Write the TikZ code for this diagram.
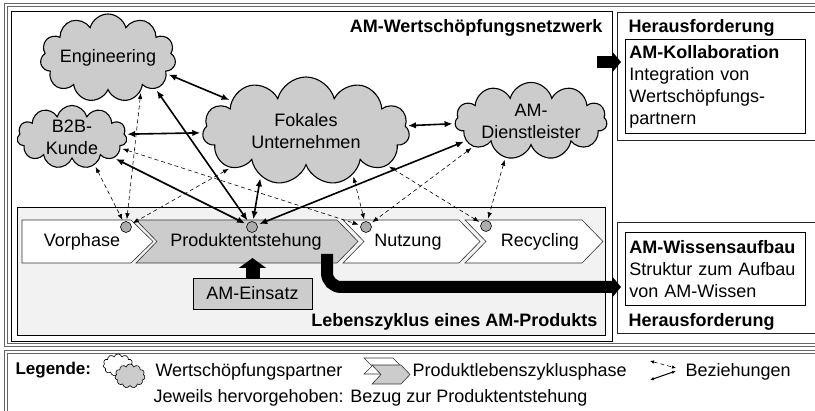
\documentclass[tikz,border=0pt]{standalone}
\usepackage{fontspec}
\setmainfont{Liberation Sans}
\usetikzlibrary{shapes.symbols,arrows.meta}

\definecolor{wolke}{gray}{0.80}
\definecolor{zyklus}{gray}{0.95}
\definecolor{punkt}{gray}{0.68}
\definecolor{rahmen}{gray}{0.40}

\tikzset{
  partner/.style={cloud, cloud puffs=11, cloud ignores aspect, draw, line width=1.1pt,
    fill=wolke, align=center, inner sep=0pt},
  dot/.style={circle, draw, fill=punkt, minimum size=11pt, inner sep=0pt, line width=0.6pt},
  rel/.style={{Latex[length=8pt,width=6.5pt]}-{Latex[length=8pt,width=6.5pt]},
    line width=1.6pt, shorten <=2pt, shorten >=2pt},
  bez/.style={{Latex[length=6pt,width=4.5pt]}-{Latex[length=6pt,width=4.5pt]},
    line width=0.6pt, dash pattern=on 4pt off 3pt, shorten <=2pt, shorten >=2pt},
  phase/.style={draw=black!80, line width=0.6pt},
  block/.style={line width=12pt, -{Triangle[length=9pt,width=21pt]}},
  titel/.style={font=\bfseries\fontsize{18}{22}\selectfont},
  legtext/.style={font=\fontsize{18}{22}\selectfont, anchor=west},
  grau/.style={draw=rahmen, line width=1pt},
}

\begin{document}
\begin{tikzpicture}[x=1pt, y=-1pt, font=\fontsize{18}{22}\selectfont]
    \useasboundingbox (0,0) rectangle (815,411);

    % Rahmen
    \draw[grau] (4,4) rectangle (830,347);
    \draw[grau] (7,7) rectangle (830,344);
    \draw[grau] (4,351) rectangle (830,430);
    \draw[grau] (7,354) rectangle (830,430);
    \draw[line width=0.8pt, fill=white] (11,11) rectangle (612,341);
    \draw[line width=0.8pt, fill=zyklus] (17,207) rectangle (605,335);
    \draw[black!85, line width=0.8pt] (617,12) rectangle (830,140);
    \draw[black!85, line width=0.8pt] (617,222) rectangle (830,333);

    \node[titel, anchor=east] (netz) at (606,28) {AM-Wertschöpfungsnetzwerk};
    \node[titel, anchor=east] (zyk) at (601,322) {Lebenszyklus eines AM-Produkts};

    % Lebenszyklusphasen
    \draw[phase, fill=white] (22,220) -- (131,220) -- (153,241.5) -- (131,263) -- (22,263) -- cycle;
    \draw[phase, fill=wolke] (136,220) -- (337,220) -- (358,241.5) -- (337,263) -- (136,263) -- (157,241.5) -- cycle;
    \draw[phase, fill=white] (343,220) -- (459,220) -- (480,241.5) -- (459,263) -- (343,263) -- (364,241.5) -- cycle;
    \draw[phase, fill=white] (465,220) -- (582,220) -- (603,241.5) -- (582,263) -- (465,263) -- (486,241.5) -- cycle;

    \node (vor) at (82,242) {Vorphase};
    \node (pe) at (246,242) {Produktentstehung};
    \node (nutz) at (408,242) {Nutzung};
    \node (rec) at (540,242) {Recycling};

    \node[dot] (cV) at (126,227) {};
    \node[dot] (cP) at (252,227) {};
    \node[dot] (cN) at (366,227) {};
    \node[dot] (cR) at (486,226) {};

    % AM-Einsatz
    \node[draw, fill=wolke, line width=0.6pt, minimum width=119pt, minimum height=31pt] (ein) at (252.5,293.5) {AM-Einsatz};
    \coordinate (pe-unten) at (252.5,258);
    \draw[line width=14pt, -{Triangle[length=10pt,width=27pt]}] (ein.north) -- (pe-unten);

    % Wertschoepfungspartner
    \node[partner, minimum width=127pt, minimum height=88pt] (eng) at (108,58) {Engineering};
    \node[partner, minimum width=110pt, minimum height=62pt] (b2b) at (72,137) {B2B-\\Kunde};
    \node[partner, minimum width=207pt, minimum height=108pt] (fok) at (306,131) {Fokales\\Unternehmen};
    \node[partner, minimum width=152pt, minimum height=76pt] (dl) at (531,121) {AM-\\Dienstleister};

    % Beziehungen (gestrichelt)
    \draw[bez] (b2b.-51) -- (cV);
    \draw[bez] (eng.-45) -- (cV);
    \draw[bez] (fok.206) -- (cV);
    \draw[bez] (b2b.-13) -- (cN);
    \draw[bez] (fok.-43) -- (cN);
    \draw[bez] (dl.204) -- (cN);
    \draw[bez] (fok.-23) -- (cR);
    \draw[bez] (dl.235) -- (cR);

    % Beziehungen (Produktentstehung)
    \draw[rel] (eng.-15) -- (fok.158);
    \draw[rel] (b2b.3) -- (fok.181);
    \draw[rel] (fok.3) -- (dl.182);
    \draw[rel] (cP) -- (b2b);
    \draw[rel] (cP) -- (eng.-33);
    \draw[rel] (cP) -- (fok.-135);
    \draw[rel] (cP) -- (dl.197);

    % Herausforderungen
    \node[titel, anchor=west] (her1) at (625,28) {Herausforderung};
    \node[draw, line width=0.8pt, anchor=north west, align=left, text width=172pt, inner sep=4pt,
      minimum height=94pt] (koll) at (625,39)
      {\textbf{AM-Kollaboration}\\Integration von\\Wertschöpfungs-\\partnern};
    \node[titel, anchor=west] (her2) at (625,322) {Herausforderung};
    \node[draw, line width=0.8pt, anchor=north west, align=left, text width=172pt, inner sep=4pt,
      minimum height=73pt] (wiss) at (625,232)
      {\textbf{AM-Wissensaufbau}\\Struktur zum Aufbau\\von AM-Wissen};

    \coordinate (koll-aus) at (597,62);
    \coordinate (koll-ein) at (621,62);
    \draw[block] (koll-aus) -- (koll-ein);
    \coordinate (wiss-aus) at (327,254);
    \coordinate (wiss-ein) at (621,287);
    \draw[block, rounded corners=14pt] (wiss-aus) |- (wiss-ein);

    % Legende
    \node[legtext, font=\bfseries\fontsize{17}{21}\selectfont] (leg) at (12,370) {Legende:};
    \node[partner, fill=white, line width=0.6pt, minimum width=30pt, minimum height=22pt] (lw1) at (118,365) {};
    \node[partner, line width=0.6pt, minimum width=30pt, minimum height=24pt] (lw2) at (130,376) {};
    \node[legtext] (lwt) at (152,372) {Wertschöpfungspartner};
    \draw[phase, fill=white] (364,358) -- (393,358) -- (401,366) -- (393,374) -- (364,374) -- (372,366) -- cycle;
    \draw[phase, fill=wolke] (372,365) -- (401,365) -- (410,374.5) -- (401,384) -- (372,384) -- (381,374.5) -- cycle;
    \node[legtext] (lpt) at (409,372) {Produktlebenszyklusphase};
    \coordinate (lb1) at (650,361);
    \coordinate (lb2) at (676,368);
    \coordinate (lb3) at (676,371);
    \coordinate (lb4) at (650,380);
    \draw[bez, shorten <=0pt, shorten >=0pt, {Latex[length=4pt,width=3.5pt]}-{Latex[length=4pt,width=3.5pt]}] (lb1) -- (lb2);
    \draw[{Latex[length=4pt,width=3.5pt]}-{Latex[length=4pt,width=3.5pt]}, line width=1pt] (lb3) -- (lb4);
    \node[legtext] (lbt) at (682,372) {Beziehungen};
    \node[legtext] (hinw) at (150,398) {Jeweils hervorgehoben: Bezug zur Produktentstehung};
\end{tikzpicture}
\end{document}
